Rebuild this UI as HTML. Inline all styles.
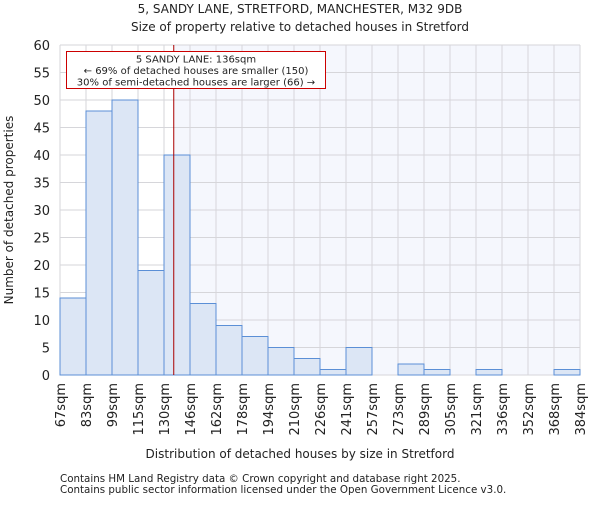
<!DOCTYPE html>
<html><head><meta charset="utf-8"><style>
body{margin:0;background:#fff;font-family:"Liberation Sans","DejaVu Sans",sans-serif}
svg text{font-family:"DejaVu Sans","Liberation Sans",sans-serif;fill:#222}
</style></head><body>
<svg id="c" width="600" height="500">
<text x="300" y="13" text-anchor="middle" font-size="12">5, SANDY LANE, STRETFORD, MANCHESTER, M32 9DB</text>
<text x="300" y="31" text-anchor="middle" font-size="12">Size of property relative to detached houses in Stretford</text>
<g id="g"></g>
<text x="300" y="458" text-anchor="middle" font-size="12">Distribution of detached houses by size in Stretford</text>
<text transform="translate(13,210) rotate(-90)" text-anchor="middle" font-size="12">Number of detached properties</text>
<text x="60" y="482" font-size="10.3">Contains HM Land Registry data © Crown copyright and database right 2025.</text>
<text x="60" y="493" font-size="10.3">Contains public sector information licensed under the Open Government Licence v3.0.</text>
</svg>
<script>
const categories=["67sqm","83sqm","99sqm","115sqm","130sqm","146sqm","162sqm","178sqm","194sqm","210sqm","226sqm","241sqm","257sqm","273sqm","289sqm","305sqm","321sqm","336sqm","352sqm","368sqm","384sqm"];
const values=[14,48,50,19,40,13,9,7,5,3,1,5,0,2,1,0,1,0,0,1];
const yTicks=[0,5,10,15,20,25,30,35,40,45,50,55,60];
const edges=[67,83,99,115,130,146,162,178,194,210,226,241,257,273,289,305,321,336,352,368,384];
const marker=136;
const X0=60,X1=580,Y0=375,Y1=45,yMax=60;
const ns="http://www.w3.org/2000/svg",g=document.getElementById('g');
const bw=(X1-X0)/values.length;
const xi=i=>X0+i*bw;
const xv=v=>{for(let i=0;i<edges.length-1;i++){if(v<=edges[i+1])return xi(i)+(v-edges[i])/(edges[i+1]-edges[i])*bw;}return X1;};
const y=v=>Y0-(v/yMax)*(Y0-Y1);
function mk(t,a,p){const e=document.createElementNS(ns,t);for(const k in a)e.setAttribute(k,a[k]);(p||g).appendChild(e);return e;}
const mx=xv(marker);
let e=mk('rect',{x:X0,y:Y1,width:X1-X0,height:Y0-Y1,fill:'#fff'});


e=mk('rect',{x:mx,y:Y1,width:X1-mx,height:Y0-Y1,fill:'#f5f7fd'});


yTicks.forEach(t=>{
 e=mk('line',{x1:X0,x2:X1,y1:y(t),y2:y(t),stroke:'#d6d6da','stroke-width':1});
 
 
 e=mk('text',{x:X0-10,y:y(t)+5,'text-anchor':'end','font-size':13});e.textContent=t;
 
 
});
categories.forEach((c,i)=>{
 e=mk('line',{x1:xi(i),x2:xi(i),y1:Y1,y2:Y0,stroke:'#d6d6da','stroke-width':1});
 
 
 e=mk('text',{transform:`translate(${xi(i)+5},${Y0+8}) rotate(-90)`,'text-anchor':'end','font-size':13});e.textContent=c;
 
 
});
values.forEach((v,i)=>{
 if(v<=0)return;
 e=mk('rect',{x:xi(i),y:y(v),width:bw,height:Y0-y(v),fill:'#dce6f5',stroke:'#5b8fd6','stroke-width':1});
 
 
});
e=mk('line',{x1:mx,x2:mx,y1:Y1,y2:Y0,stroke:'#aa0000','stroke-width':1});


e=mk('rect',{x:66.5,y:51.5,width:259,height:37,fill:'#fff',stroke:'#cc0000','stroke-width':1});


["5 SANDY LANE: 136sqm","← 69% of detached houses are smaller (150)","30% of semi-detached houses are larger (66) →"].forEach((s,i)=>{
 e=mk('text',{x:196,y:62.5+i*11.5,'text-anchor':'middle','font-size':10});e.textContent=s;
 
 
});
</script>
</body></html>
